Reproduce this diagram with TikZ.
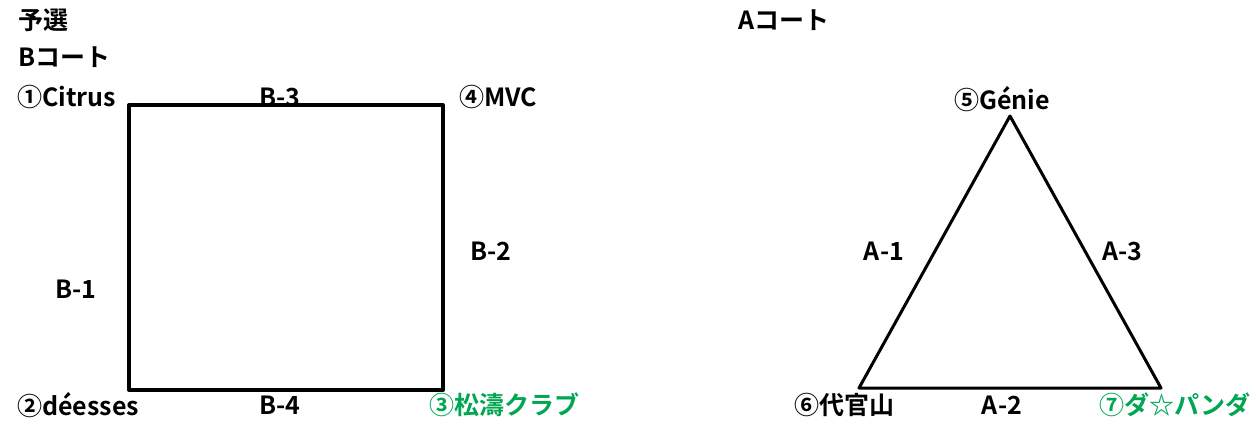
\documentclass[tikz,border=0pt]{standalone}
\usepackage{fontspec}
\setmainfont{Noto Sans CJK JP}[BoldFont={Noto Sans CJK JP Bold}]
\usetikzlibrary{positioning, calc}
\definecolor{teamgreen}{RGB}{0,166,81}

\begin{document}
\begin{tikzpicture}[
    x = 1pt, y = -1pt, % pixel like units
    court/.style = {line width = 4pt, line join = round},
    lbl/.style = {inner sep = 0pt, font = \fontsize{25}{28}\selectfont\bfseries},
    team/.style = {lbl, anchor = west},
    seed/.style = {team, text = teamgreen}
    ]

    \useasboundingbox (0,0) rectangle (1258,423);

    % headings
    \node[team] (title) at (18,20) {予選};
    \node[team] (bcourt) at (18,57) {Bコート};
    \node[team] (acourt) at (738,20) {Aコート};

    % B court
    \coordinate (b1) at (129,105);
    \coordinate (b4) at (443,105);
    \coordinate (b3) at (443,390);
    \coordinate (b2) at (129,390);
    \draw[court] (b1) -- (b4) -- (b3) -- (b2) -- cycle;

    \node[team] (t1) at (17,97) {①Citrus};
    \node[team] (t4) at (459,97) {④MVC};
    \node[team] (t2) at (17,405) {②déesses};
    \node[seed] (t3) at (429,405) {③松濤クラブ};

    \node[lbl] (m3) at (280,97) {B-3};
    \node[lbl] (m2) at (491,251) {B-2};
    \node[lbl] (m1) at (76,289) {B-1};
    \node[lbl] (m4) at (280,405) {B-4};

    % A court
    \coordinate (a5) at (1010,116);
    \coordinate (a6) at (859,388);
    \coordinate (a7) at (1161,388);
    \draw[court, line width = 3pt] (a5) -- (a7) -- (a6) -- cycle;

    \node[team] (t5) at (954,99) {⑤Génie};
    \node[team] (t6) at (794,405) {⑥代官山};
    \node[seed] (t7) at (1099,405) {⑦ダ☆パンダ};

    \node[lbl] (n1) at (884,251) {A-1};
    \node[lbl] (n3) at (1122,251) {A-3};
    \node[lbl] (n2) at (1002,405) {A-2};

\end{tikzpicture}
\end{document}
